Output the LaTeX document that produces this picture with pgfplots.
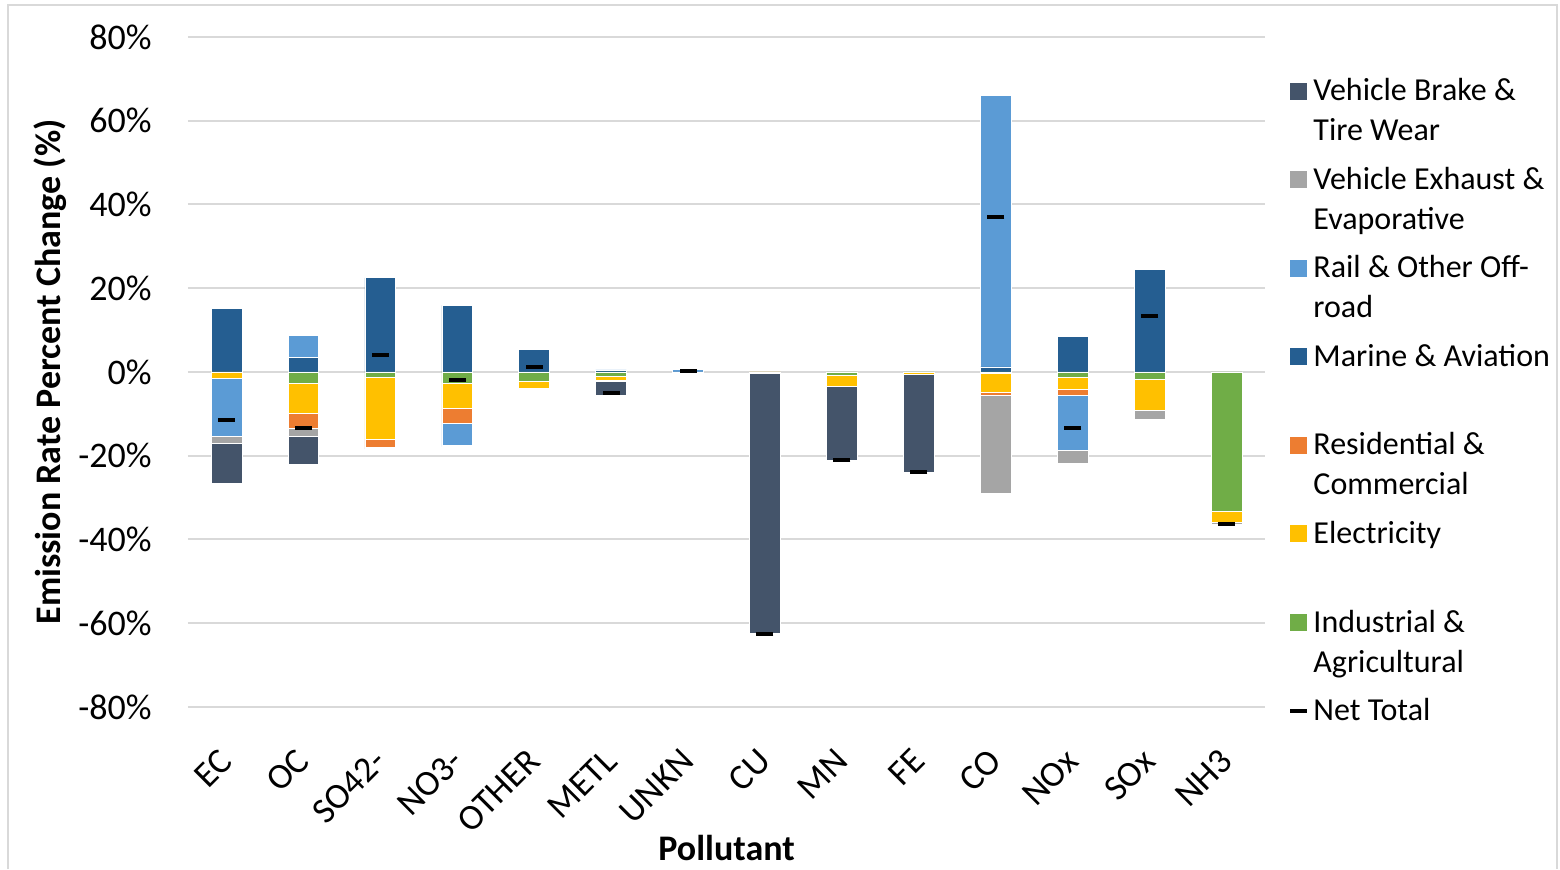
\documentclass[border=0pt]{standalone}
\usepackage{fontspec}
\setmainfont{Carlito}
\usepackage{pgfplots}
\pgfplotsset{compat=1.18}
\usepackage{pgfplotstable}

\definecolor{cBrk}{HTML}{44546A}
\definecolor{cExh}{HTML}{A5A5A5}
\definecolor{cRail}{HTML}{5B9BD5}
\definecolor{cMar}{HTML}{255E91}
\definecolor{cRes}{HTML}{ED7D31}
\definecolor{cEle}{HTML}{FFC000}
\definecolor{cInd}{HTML}{70AD47}
\definecolor{cGrid}{HTML}{D9D9D9}

% increases by sector (stacked upward from zero)
\pgfplotstableread{
x  Ind  Ele  Res  Mar   Rail  Exh  Brk
0  0    0    0    15.1  0     0    0
1  0    0    0    3.4   5.3   0    0
2  0    0    0    22.5  0     0    0
3  0    0    0    15.9  0     0    0
4  0    0    0    5.4   0     0    0
5  0    0    0    0.4   0.1   0    0
6  0    0    0    0     0.6   0    0
7  0    0    0    0     0     0    0
8  0    0    0    0     0     0    0
9  0    0    0    0     0     0    0
10 0    0    0    1.2   64.8  0    0
11 0    0    0    8.5   0     0    0
12 0    0    0    24.5  0     0    0
13 0    0    0    0     0     0    0
}\postab

% decreases by sector (stacked downward from zero)
\pgfplotstableread{
x  Ind    Ele    Res   Mar  Rail   Exh    Brk
0  0      -1.6   0     0    -13.7  -1.7   -9.6
1  -2.6   -7.2   -3.7  0    0      -1.8   -6.7
2  -1.3   -14.7  -2.0  0    -0.2   -0.2   0
3  -2.7   -6.0   -3.6  0    -5.2   -0.3   0
4  -2.3   -1.5   0     0    0      -0.4   0
5  -1.1   -0.8   0     0    0      -0.3   -3.4
6  0      0      0     0    0      -0.4   0
7  0      -0.2   0     0    0      0      -62.3
8  -0.7   -2.7   0     0    0      0      -17.6
9  -0.1   -0.5   0     0    0      0      -23.4
10 -0.3   -4.6   -0.7  0    0      -23.3  0
11 -1.2   -2.9   -1.5  0    -13.0  -3.2   0
12 -1.7   -7.5   0     0    0      -2.0   0
13 -33.2  -2.6   0     0    0      -0.5   0
}\negtab

% net change per pollutant
\pgfplotstableread{
x  net
0  -11.5
1  -13.3
2  4.1
3  -1.9
4  1.2
5  -5.1
6  0.2
7  -62.5
8  -21.0
9  -24.0
10 37.1
11 -13.3
12 13.3
13 -36.3
}\nettab

\pgfplotsset{
  panel/.style={
    scale only axis, width=538.5pt, height=335pt,
    at={(94pt,81pt)}, anchor=south west,
    xmin=-0.5, xmax=13.5, ymin=-80, ymax=80,
  },
  seg/.style={fill=#1, draw=white, line width=0.3pt, forget plot},
}
% legend square placed beside the first line of a two-line entry
\newcommand\sqimg[1]{\addlegendimage{legend image code/.code={%
  \path[draw=none, fill=none] (0pt,-14.25pt) rectangle (8.5pt,14.25pt);
  \fill[#1, draw=none] (0pt,5.75pt) rectangle (8.5pt,14.25pt);}}}

\begin{document}
\begin{tikzpicture}
\useasboundingbox (0,0) rectangle (780pt,434.5pt);
\draw[cGrid, line width=1pt] (4pt,0pt) -- (4pt,432pt) -- (778.5pt,432pt) -- (778.5pt,0pt);

\begin{axis}[panel,
  ybar stacked, bar width=0.4,
  axis line style={draw=none}, tick style={draw=none},
  ymajorgrids, major grid style={cGrid, line width=1pt},
  ytick={-80,-60,...,80},
  yticklabels={-80\%,-60\%,-40\%,-20\%,0\%,20\%,40\%,60\%,80\%},
  yticklabel style={font=\fontsize{18}{20}\selectfont, inner sep=0pt, anchor=east, xshift=-18pt},
  xtick={0,...,13},
  xticklabels={EC,OC,SO42-,NO3-,OTHER,METL,UNKN,CU,MN,FE,CO,NOx,SOx,NH3},
  xticklabel style={font=\fontsize{18}{20}\selectfont, inner sep=0pt, yshift=-24pt, rotate=45, anchor=east},
  xlabel={\bfseries Pollutant},
  xlabel style={font=\fontsize{18}{20}\selectfont, at={(axis description cs:0.5,-0.2104)}, anchor=center},
  ylabel={\bfseries Emission Rate Percent Change (\%)},
  ylabel style={font=\fontsize{18}{20}\selectfont, at={(axis description cs:-0.1281,0.5)}, anchor=center},
  legend cell align=left,
  legend style={at={(axis description cs:1.0214,0.9388)}, anchor=north west,
    draw=none, fill=none, font=\fontsize{16}{20}\selectfont,
    cells={align=left}, row sep=11.7pt, inner sep=0pt,
    nodes={inner xsep=2pt, inner ysep=0pt}},
]
\sqimg{cBrk}\addlegendentry{Vehicle Brake \&\\Tire Wear}
\sqimg{cExh}\addlegendentry{Vehicle Exhaust \&\\Evaporative}
\sqimg{cRail}\addlegendentry{Rail \& Other Off-\\road}
\sqimg{cMar}\addlegendentry{Marine \& Aviation\\\strut}
\sqimg{cRes}\addlegendentry{Residential \&\\Commercial}
\sqimg{cEle}\addlegendentry{Electricity\\\strut}
\sqimg{cInd}\addlegendentry{Industrial \&\\Agricultural}
\addlegendimage{legend image code/.code={\draw[black, line width=2pt] (0pt,0pt) -- (8.5pt,0pt);}}
\addlegendentry{Net Total}

\addplot[seg=cMar]  table[x=x, y=Mar]  {\postab};
\addplot[seg=cRail] table[x=x, y=Rail] {\postab};
\end{axis}

\begin{axis}[panel, hide axis, ybar stacked, bar width=0.4]
\addplot[seg=cInd]  table[x=x, y=Ind]  {\negtab};
\addplot[seg=cEle]  table[x=x, y=Ele]  {\negtab};
\addplot[seg=cRes]  table[x=x, y=Res]  {\negtab};
\addplot[seg=cMar]  table[x=x, y=Mar]  {\negtab};
\addplot[seg=cRail] table[x=x, y=Rail] {\negtab};
\addplot[seg=cExh]  table[x=x, y=Exh]  {\negtab};
\addplot[seg=cBrk]  table[x=x, y=Brk]  {\negtab};
\end{axis}

\begin{axis}[panel, hide axis]
\addplot[only marks, mark=-, mark size=4.25pt, mark options={line width=2pt, black}]
  table[x=x, y=net] {\nettab};
\end{axis}
\end{tikzpicture}
\end{document}
